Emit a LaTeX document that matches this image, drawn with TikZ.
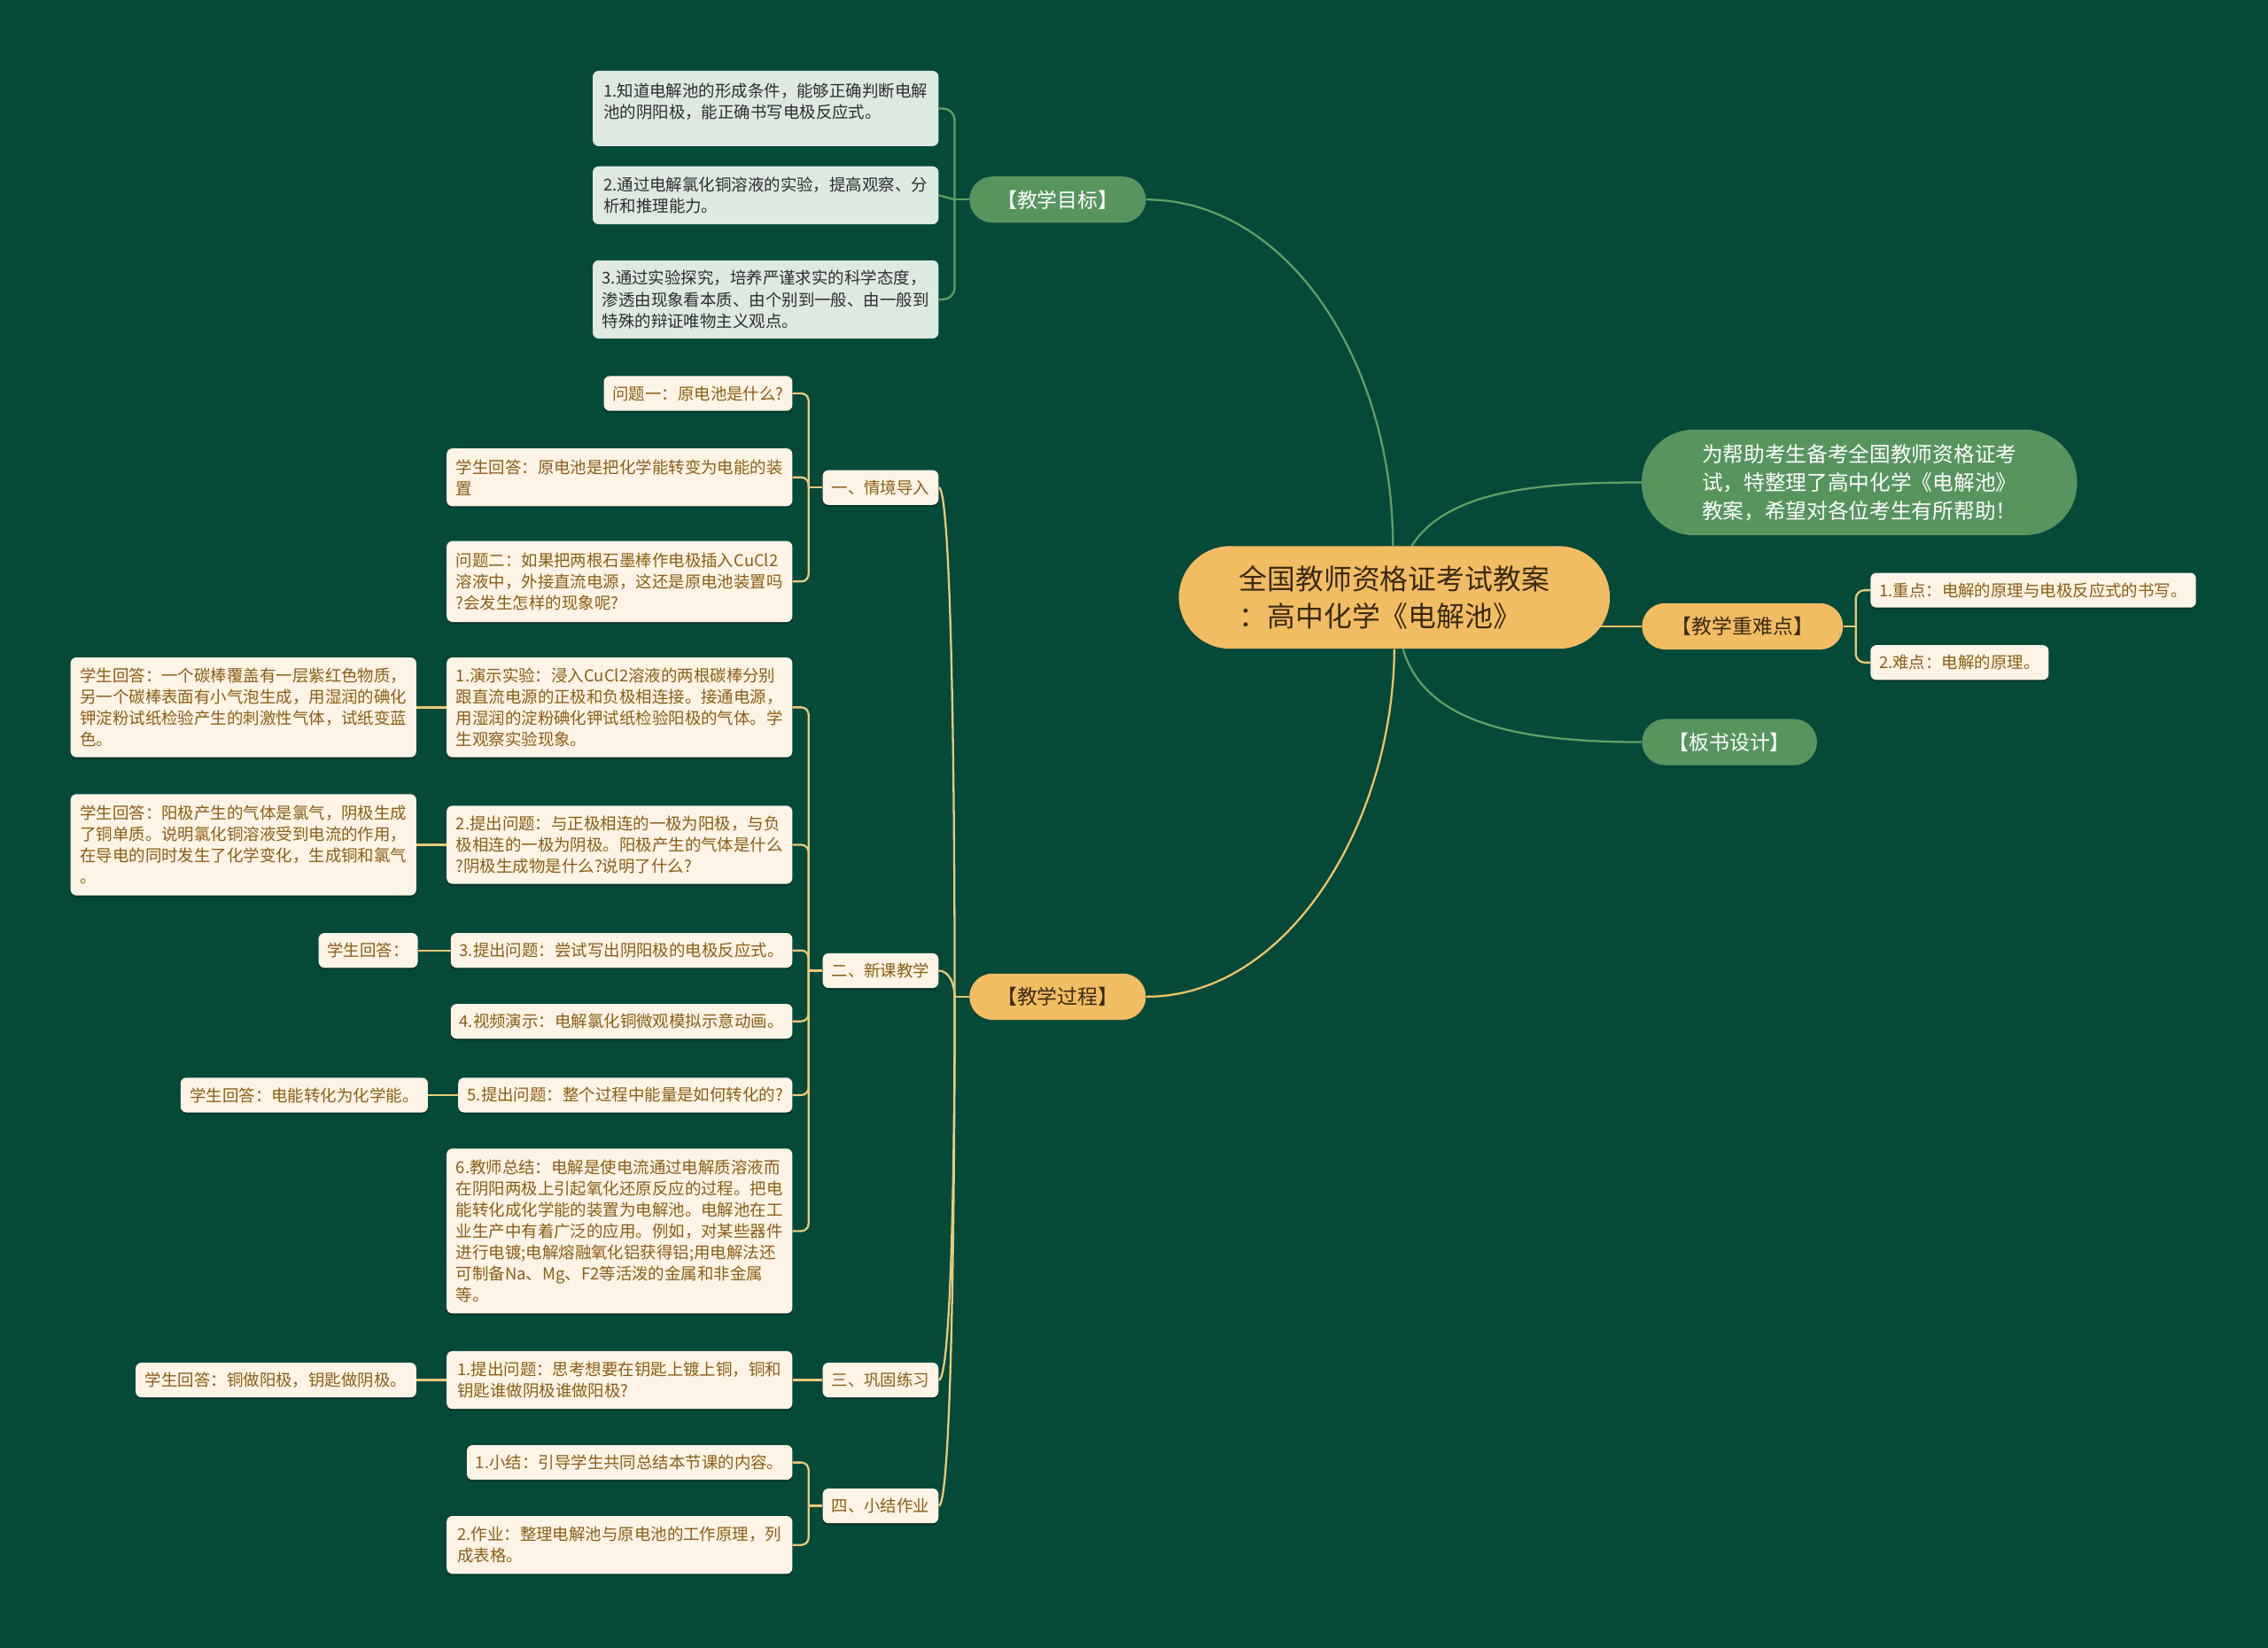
\documentclass[tikz,border=0pt]{standalone}
\usepackage{fontspec}
\setmainfont{Noto Sans CJK SC}
\usetikzlibrary{backgrounds,shadows}
\definecolor{bgc}{RGB}{5,73,57}
\definecolor{greenf}{RGB}{88,149,94}
\definecolor{orangef}{RGB}{242,188,99}
\definecolor{creamf}{RGB}{253,244,229}
\definecolor{goalf}{RGB}{222,234,225}
\definecolor{brownt}{RGB}{140,92,22}
\definecolor{darkt}{RGB}{45,45,45}
\definecolor{otext}{RGB}{58,42,18}
\definecolor{glinec}{RGB}{96,158,102}
\definecolor{ylinec}{RGB}{233,202,120}
\definecolor{olinec}{RGB}{240,195,100}
\tikzset{
  base/.style={inner xsep=6pt, inner ysep=3pt, align=left, font=\fontsize{11.3}{14.7}\selectfont},
  leaf/.style={base, fill=creamf, text=brownt, rounded corners=4pt,
    drop shadow={shadow xshift=0pt, shadow yshift=-1.2pt, opacity=0.3, fill=black}},
  goalleaf/.style={base, fill=goalf, text=darkt, rounded corners=4pt, font=\fontsize{11.3}{15}\selectfont},
  gpill/.style={fill=greenf, text=white, rounded corners=16pt, minimum height=32pt, inner xsep=6pt, font=\fontsize{14}{17}\selectfont},
  opill/.style={fill=orangef, text=otext, rounded corners=16pt, minimum height=32pt, inner xsep=6pt, font=\fontsize{14}{17}\selectfont},
  gline/.style={draw=glinec, line width=1.4pt},
  yline/.style={draw=ylinec, line width=1.4pt},
  oline/.style={draw=olinec, line width=1.4pt},
}
\begin{document}
\begin{tikzpicture}[x=1pt,y=-1pt]
\useasboundingbox (0,0) rectangle (1568,1139);

% center
\node[fill=orangef, text=otext, rounded corners=35.5pt, minimum width=298pt, minimum height=71pt, align=left,
  font=\fontsize{19.5}{26}\selectfont] (center) at (964,413) {全国教师资格证考试教案\\：高中化学《电解池》};

% right side
\node[fill=greenf, text=white, rounded corners=36pt, minimum width=301pt, minimum height=73pt, align=left,
  font=\fontsize{14.5}{19.5}\selectfont] (intro) at (1285.5,333.5)
  {为帮助考生备考全国教师资格证考\\试，特整理了高中化学《电解池》\\教案，希望对各位考生有所帮助！};
\node[opill, anchor=west, minimum width=139pt] (zd) at (1135,433) {【教学重难点】};
\node[leaf, anchor=west, minimum width=225pt, minimum height=24pt] (z1) at (1293,408) {1.重点：电解的原理与电极反应式的书写。};
\node[leaf, anchor=west, minimum width=123pt, minimum height=24pt] (z2) at (1293,458) {2.难点：电解的原理。};
\node[gpill, anchor=west, minimum width=121pt] (bs) at (1135,513) {【板书设计】};

% teaching goals
\node[gpill, anchor=west, minimum width=122pt] (goal) at (670,138) {【教学目标】};
\node[goalleaf, anchor=east, minimum width=239pt, minimum height=52pt] (g1) at (649,75)
  {1.知道电解池的形成条件，能够正确判断电解\\池的阴阳极，能正确书写电极反应式。\\[-4pt]\mbox{}};
\node[goalleaf, anchor=east, minimum width=239pt, minimum height=40pt] (g2) at (649,135)
  {2.通过电解氯化铜溶液的实验，提高观察、分\\析和推理能力。};
\node[goalleaf, anchor=east, minimum width=239pt, minimum height=54pt] (g3) at (649,207)
  {3.通过实验探究，培养严谨求实的科学态度，\\渗透由现象看本质、由个别到一般、由一般到\\特殊的辩证唯物主义观点。};

% teaching process
\node[opill, anchor=west, minimum width=122pt] (tp) at (670,689) {【教学过程】};
\node[leaf, anchor=east, minimum width=80pt, minimum height=24pt] (s1) at (649,337) {一、情境导入};
\node[leaf, anchor=east, minimum width=80pt, minimum height=24pt] (s2) at (649,671) {二、新课教学};
\node[leaf, anchor=east, minimum width=80pt, minimum height=24pt] (s3) at (649,954) {三、巩固练习};
\node[leaf, anchor=east, minimum width=80pt, minimum height=24pt] (s4) at (649,1041) {四、小结作业};

\node[leaf, anchor=east, minimum width=130pt, minimum height=24pt] (a1) at (548,272) {问题一：原电池是什么?};
\node[leaf, anchor=east, minimum width=239pt, minimum height=40pt] (a2) at (548,330)
  {学生回答：原电池是把化学能转变为电能的装\\置};
\node[leaf, anchor=east, minimum width=239pt, minimum height=56pt] (a3) at (548,402)
  {问题二：如果把两根石墨棒作电极插入CuCl2\\溶液中，外接直流电源，这还是原电池装置吗\\?会发生怎样的现象呢?};

\node[leaf, anchor=east, minimum width=239pt, minimum height=69pt] (b1) at (548,489)
  {1.演示实验：浸入CuCl2溶液的两根碳棒分别\\跟直流电源的正极和负极相连接。接通电源，\\用湿润的淀粉碘化钾试纸检验阳极的气体。学\\生观察实验现象。};
\node[leaf, anchor=east, minimum width=239pt, minimum height=54pt] (b2) at (548,584)
  {2.提出问题：与正极相连的一极为阳极，与负\\极相连的一极为阴极。阳极产生的气体是什么\\?阴极生成物是什么?说明了什么?};
\node[leaf, anchor=east, minimum width=236pt, minimum height=24pt] (b3) at (548,657) {3.提出问题：尝试写出阴阳极的电极反应式。};
\node[leaf, anchor=east, minimum width=236pt, minimum height=24pt] (b4) at (548,706) {4.视频演示：电解氯化铜微观模拟示意动画。};
\node[leaf, anchor=east, minimum width=231pt, minimum height=24pt] (b5) at (548,757) {5.提出问题：整个过程中能量是如何转化的?};
\node[leaf, anchor=east, minimum width=239pt, minimum height=114pt] (b6) at (548,851)
  {6.教师总结：电解是使电流通过电解质溶液而\\在阴阳两极上引起氧化还原反应的过程。把电\\能转化成化学能的装置为电解池。电解池在工\\业生产中有着广泛的应用。例如，对某些器件\\进行电镀;电解熔融氧化铝获得铝;用电解法还\\可制备Na、Mg、F2等活泼的金属和非金属\\等。};

\node[leaf, anchor=east, minimum width=239pt, minimum height=69pt] (b1r) at (288,489)
  {学生回答：一个碳棒覆盖有一层紫红色物质，\\另一个碳棒表面有小气泡生成，用湿润的碘化\\钾淀粉试纸检验产生的刺激性气体，试纸变蓝\\色。};
\node[leaf, anchor=east, minimum width=239pt, minimum height=70pt] (b2r) at (288,584)
  {学生回答：阳极产生的气体是氯气，阴极生成\\了铜单质。说明氯化铜溶液受到电流的作用，\\在导电的同时发生了化学变化，生成铜和氯气\\。};
\node[leaf, anchor=east, minimum width=67pt, minimum height=24pt] (b3r) at (289,657) {学生回答：};
\node[leaf, anchor=east, minimum width=171pt, minimum height=24pt] (b5r) at (296,757) {学生回答：电能转化为化学能。};

\node[leaf, anchor=east, minimum width=239pt, minimum height=40pt] (c1) at (548,954)
  {1.提出问题：思考想要在钥匙上镀上铜，铜和\\钥匙谁做阴极谁做阳极?};
\node[leaf, anchor=east, minimum width=194pt, minimum height=24pt] (c1r) at (288,954) {学生回答：铜做阳极，钥匙做阴极。};

\node[leaf, anchor=east, minimum width=225pt, minimum height=24pt] (d1) at (548,1011) {1.小结：引导学生共同总结本节课的内容。};
\node[leaf, anchor=east, minimum width=239pt, minimum height=40pt] (d2) at (548,1068)
  {2.作业：整理电解池与原电池的工作原理，列\\成表格。};

\begin{scope}[on background layer]
\fill[bgc] (0,0) rectangle (1568,1139);
% main branches
\draw[gline] ([xshift=-1pt]center.north) .. controls (963,250) and (890,138) .. (goal.east);
\draw[oline] (center.south) .. controls (963,570) and (890,689) .. (tp.east);
\draw[gline] ([xshift=12pt]center.north) .. controls (1000,340) and (1060,333.5) .. (intro.west);
\draw[gline] ([xshift=6pt]center.south) .. controls (985,500) and (1050,513) .. (bs.west);
\draw[oline] (zd.west) -- ++(-40,0);
% key points bracket
\coordinate (zdj) at (1283,433);
\draw[yline] (zd.east) -- (zdj);
\draw[yline, rounded corners=6pt] (zdj) |- (z1.west);
\draw[yline, rounded corners=6pt] (zdj) |- (z2.west);
% goals bracket
\coordinate (gj) at (660,138);
\draw[gline] (goal.west) -- (gj);
\draw[gline, rounded corners=8pt] (gj) |- (g1.east);
\draw[gline] (gj) -- (g2.east);
\draw[gline, rounded corners=8pt] (gj) |- (g3.east);
% process spine
\coordinate (tj) at (660,689);
\draw[oline] (tp.west) -- (tj);
\draw[yline] (tj) .. controls (660,513) and (657,337) .. (s1.east);
\draw[yline] (tj) .. controls (660,680) and (656,671) .. (s2.east);
\draw[yline] (tj) .. controls (660,820) and (657,954) .. (s3.east);
\draw[yline] (tj) .. controls (660,865) and (657,1041) .. (s4.east);
% level 3
\coordinate (s1j) at (559,337);
\draw[yline] (s1.west) -- (s1j);
\foreach \n in {a1,a2,a3} \draw[yline, rounded corners=5pt] (s1j) |- (\n.east);
\coordinate (s2j) at (559,671);
\draw[yline] (s2.west) -- (s2j);
\foreach \n in {b1,b2,b3,b4,b5,b6} \draw[yline, rounded corners=5pt] (s2j) |- (\n.east);
\draw[yline] (s3.west) -- (c1.east);
\coordinate (s4j) at (559,1041);
\draw[yline] (s4.west) -- (s4j);
\foreach \n in {d1,d2} \draw[yline, rounded corners=5pt] (s4j) |- (\n.east);
% level 4
\draw[yline] (b1.west) -- (b1r.east);
\draw[yline] (b2.west) -- (b2r.east);
\draw[yline] (b3.west) -- (b3r.east);
\draw[yline] (b5.west) -- (b5r.east);
\draw[yline] (c1.west) -- (c1r.east);
\end{scope}
\end{tikzpicture}
\end{document}
